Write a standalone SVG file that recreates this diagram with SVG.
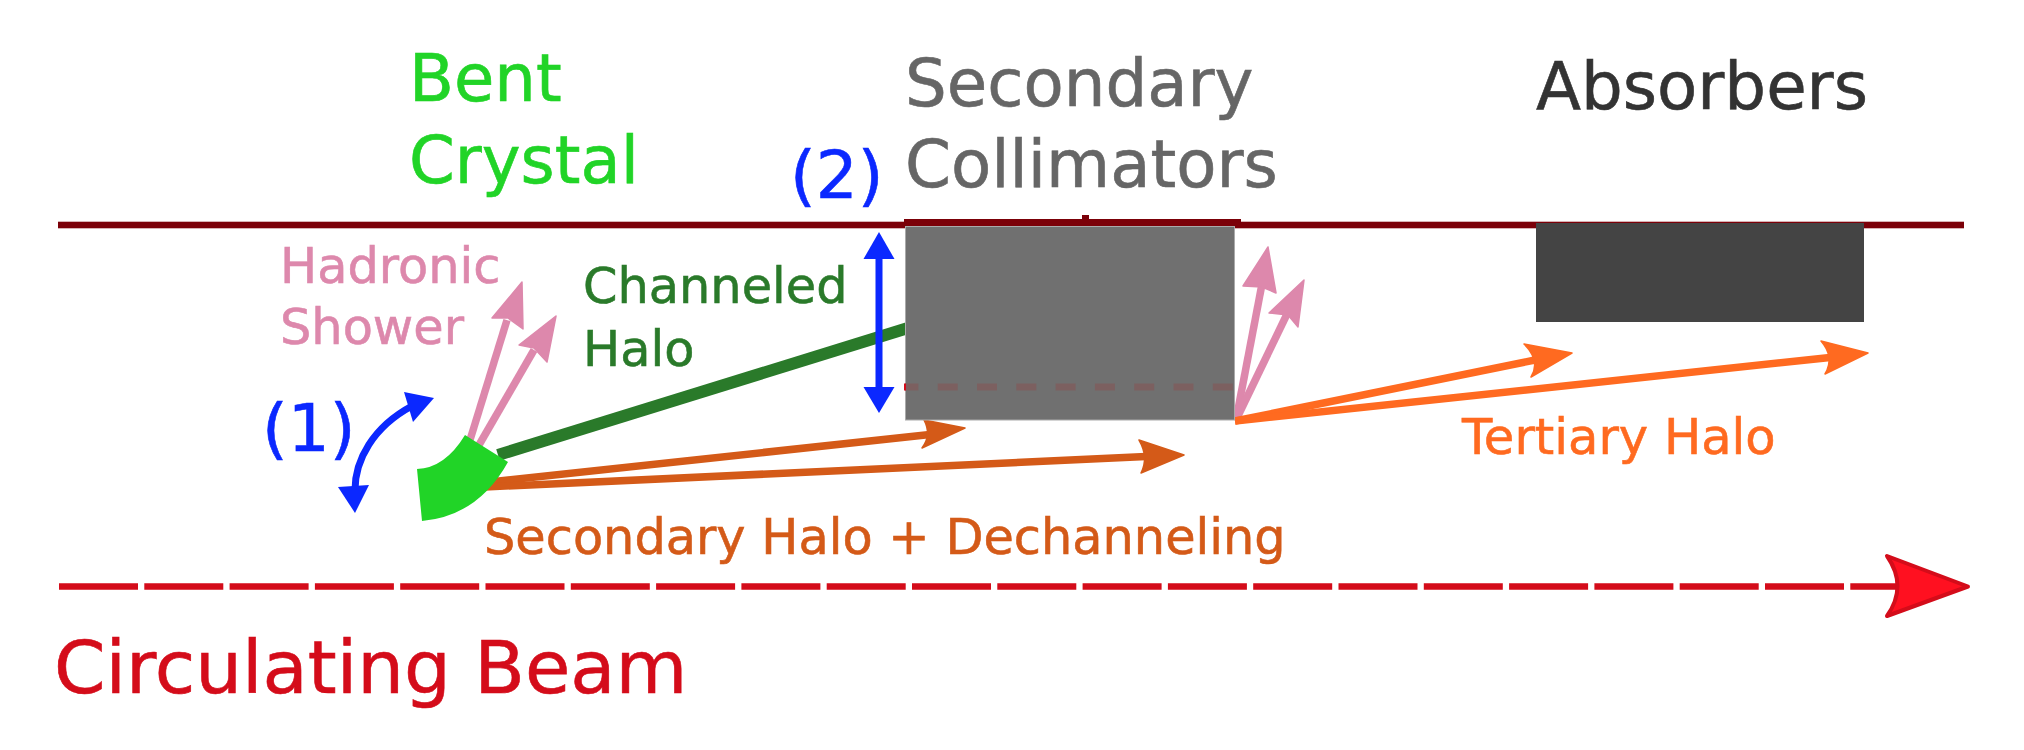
<svg xmlns="http://www.w3.org/2000/svg" width="2024" height="750" viewBox="0 0 2024 750">
<style>
text{font-family:"DejaVu Sans",sans-serif;stroke-width:0.6}
.t-green{fill:#21d427;stroke:#21d427}
.t-grey{fill:#666;stroke:#666}
.t-dark{fill:#333;stroke:#333}
.t-blue{fill:#0b28ff;stroke:#0b28ff}
.t-pink{fill:#dd88ac;stroke:#dd88ac}
.t-forest{fill:#2a7a2a;stroke:#2a7a2a}
.t-sec{fill:#d45a18;stroke:#d45a18}
.t-ter{fill:#ff6a20;stroke:#ff6a20}
.t-red{fill:#d40c1a;stroke:#d40c1a}
.pink{stroke:#dd88ac;stroke-width:7.500;fill:none}
.pinkh{fill:#dd88ac;stroke:#dd88ac;stroke-width:1.5;stroke-linejoin:round}
.sec{stroke:#d45a18;stroke-width:7.500;fill:none}
.sech{fill:#d45a18;stroke:#d45a18;stroke-width:1.5;stroke-linejoin:round}
.ter{stroke:#ff6a20;stroke-width:7.500;fill:none}
.terh{fill:#ff6a20;stroke:#ff6a20;stroke-width:1.5;stroke-linejoin:round}
.blue{stroke:#0b28ff;stroke-width:7;fill:none}
.blueh{fill:#0b28ff}
</style>
<rect width="2024" height="750" fill="#fff"/>
<g id="pipe-wall"><rect x="58" y="221.700" width="1906" height="6.600" fill="#7b0008"/></g>
<g id="connectors">
<!-- channeled halo beam runs behind the collimator -->
<line x1="498" y1="455" x2="908" y2="328" stroke="#2a7a2a" stroke-width="12"/>
<line class="sec" x1="490" y1="482" x2="930" y2="434.500"/>
<path class="sech" d="M965 428L922 448Q932 435 924 420Z"/>
<line class="sec" x1="485" y1="487" x2="1146" y2="456.500"/>
<path class="sech" d="M1184 455L1141 473Q1149 457 1139 440Z"/>
<line class="pink" x1="470" y1="440" x2="507" y2="320"/>
<path class="pinkh" d="M522 282L523 329L508 318L492 318Z"/>
<line class="pink" x1="479" y1="445" x2="534" y2="350"/>
<path class="pinkh" d="M556 316L547 362L534 348L519 345Z"/>
<path class="blue" d="M355 490C355 460 373 427 412 406"/>
<path class="blueh" d="M355 513L338 487L369 485Z"/>
<path class="blueh" d="M434 398L413 422L404 392Z"/>
<line class="blue" x1="879" y1="255" x2="879" y2="390"/>
<path class="blueh" d="M879 232L894.500 259H863.500Z"/>
<path class="blueh" d="M879 413L863.500 387H894.500Z"/>
<line class="pink" x1="1236" y1="420" x2="1262" y2="284"/>
<path class="pinkh" d="M1268 247L1276 293L1262 287L1243 286Z"/>
<line class="pink" x1="1236" y1="420" x2="1288" y2="312"/>
<path class="pinkh" d="M1304 280L1298 327L1288 315L1269 313Z"/>
<line class="ter" x1="1235" y1="421" x2="1535" y2="360"/>
<path class="terh" d="M1572 353L1531 377Q1541 361 1524 344Z"/>
<line class="ter" x1="1235" y1="421" x2="1830" y2="357.500"/>
<path class="terh" d="M1868 353L1825 374Q1835 357 1821 341Z"/>
<line x1="59" y1="586.500" x2="1898" y2="586.500" stroke="#d40c1a" stroke-width="6.600" stroke-dasharray="79 6.300"/>
<path d="M1968 586.500L1887 616Q1908 586 1887 556Z" fill="#ff1020" stroke="#d40c1a" stroke-width="4" stroke-linejoin="round"/>
</g>
<g id="crystal"><path d="M465 435L508 462Q478 516 422 521L417 469Q445 468 465 435Z" fill="#21d427"/></g>
<g id="secondary-collimators">
<rect x="904" y="219" width="337" height="7.500" fill="#7b0008"/>
<rect x="1082" y="215" width="7" height="6" fill="#7b0008"/>
<rect x="905.500" y="226.500" width="329" height="193.500" fill="#707070" stroke="#aaa" stroke-width="1"/>
<line x1="905" y1="387" x2="1234" y2="387" stroke="#7c6060" stroke-width="7" stroke-dasharray="20 19.300" stroke-dashoffset="6.600"/>
<rect x="904" y="383.500" width="2" height="7" fill="#d40c1a"/>
</g>
<g id="absorbers"><rect x="1536" y="223" width="328" height="99" fill="#444"/></g>
<g id="labels">
<text x="409" y="101" font-size="65.600" class="t-green">Bent</text>
<text x="409" y="183" font-size="65.600" class="t-green">Crystal</text>
<text x="905" y="106" font-size="65.800" class="t-grey">Secondary</text>
<text x="905" y="187" font-size="65.800" class="t-grey">Collimators</text>
<text x="1536" y="109" font-size="65.800" class="t-dark">Absorbers</text>
<text x="790" y="198" font-size="66" class="t-blue">(2)</text>
<text x="262" y="451" font-size="66" class="t-blue">(1)</text>
<text x="280" y="282.500" font-size="49.400" class="t-pink">Hadronic</text>
<text x="280" y="344" font-size="49.400" class="t-pink">Shower</text>
<text x="583" y="303" font-size="49.400" class="t-forest">Channeled</text>
<text x="583" y="366" font-size="49.400" class="t-forest">Halo</text>
<text x="484" y="554" font-size="49.400" class="t-sec">Secondary Halo + Dechanneling</text>
<text x="1462" y="454" font-size="49.600" class="t-ter">Tertiary Halo</text>
<text x="54" y="693" font-size="73.800" class="t-red">Circulating Beam</text>
</g>
</svg>
